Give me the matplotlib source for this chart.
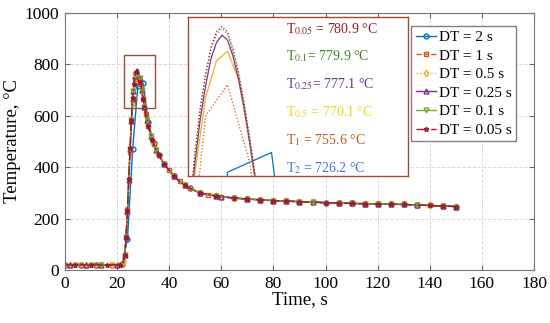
import matplotlib
matplotlib.use("Agg")
from matplotlib import pyplot as plt
from matplotlib.patches import Rectangle

plt.rcParams["font.family"] = ["Liberation Serif", "DejaVu Serif"]
plt.rcParams["mathtext.fontset"] = "stix"

# shared parts of every curve (heating stage before, cooling tail after)
t_base = [0, 2, 4, 6, 8, 10, 12, 14, 16, 18, 20]
T_base = [20, 20, 20, 20, 20, 20, 20, 20, 20, 20, 20]
t_tail = [36, 38, 40, 42, 44, 46, 48, 50, 52, 55, 58, 60, 65, 70, 75, 80, 85, 90,
          95, 100, 105, 110, 115, 120, 125, 130, 135, 140, 145, 150]
T_tail = [447, 414, 388, 364, 345, 330, 318, 308, 300, 293, 288, 285, 280, 276, 273,
          270, 268, 266, 264, 262, 261, 259, 258, 257, 256, 255, 253, 251, 249, 247]

# peak region for each time step
t_dt2 = [22, 24, 26, 28, 30, 32, 34]
T_dt2 = [25, 120, 470, 717.6, 726.2, 575, 495]

t_dt1 = [21, 22, 23, 24, 25, 26, 27, 28, 29, 30, 31, 32, 33, 34, 35]
T_dt1 = [20, 22, 60, 225, 460, 650, 742, 755.6, 722, 665, 605, 560, 522, 492, 468]

t_dt05 = [21, 22, 22.5, 23, 23.5, 24, 24.5, 25, 25.5, 26, 26.5, 27, 27.5, 28, 28.5,
          29, 29.5, 30, 30.5, 31, 31.5, 32, 32.5, 33, 33.5, 34, 34.5, 35]
T_dt05 = [20, 22, 35, 60, 130, 230, 350, 470, 578, 662, 716, 750, 766, 770.1, 758,
          731, 699, 666, 634, 606, 582, 561, 541, 523, 507, 493, 480, 468]

t_fine = [21, 22, 22.5, 23, 23.5, 24, 24.5, 25, 25.5, 26, 26.25, 26.5, 26.75, 27,
          27.25, 27.5, 27.75, 28, 28.25, 28.5, 28.75, 29, 29.25, 29.5, 30, 30.5, 31,
          31.5, 32, 32.5, 33, 33.5, 34, 34.5, 35]
T_dt025 = [20, 22, 35, 60, 130, 230, 350, 470, 580, 665, 695, 720, 740, 755, 767,
           774, 777.1, 775, 768, 758, 746, 731, 715, 699, 666, 634, 606, 582, 561,
           541, 523, 507, 493, 480, 468]
T_dt01 = [20, 22, 35, 60, 130, 232, 352, 472, 582, 667, 698, 723, 744, 759, 771,
          777.5, 779.9, 777.5, 770, 760, 747, 732, 716, 700, 667, 635, 606, 582, 561,
          541, 523, 507, 493, 480, 468]
T_dt005 = [20, 22, 35, 60, 130, 233, 353, 473, 583, 668, 699, 724, 745, 760, 772,
           778.5, 780.9, 778.5, 771, 761, 748, 733, 717, 701, 667, 635, 606, 582, 561,
           541, 523, 507, 493, 480, 468]

labels = ["DT = 2 s", "DT = 1 s", "DT = 0.5 s", "DT = 0.25 s", "DT = 0.1 s", "DT = 0.05 s"]
peak_times = [t_dt2, t_dt1, t_dt05, t_fine, t_fine, t_fine]
peak_temps = [T_dt2, T_dt1, T_dt05, T_dt025, T_dt01, T_dt005]
peak_text = [r"T$_{2}$ = 726.2 °C", r"T$_{1}$ = 755.6 °C", r"T$_{0.5}$ = 770.1 °C",
             r"T$_{0.25}$= 777.1 °C", r"T$_{0.1}$= 779.9 °C", r"T$_{0.05}$ = 780.9 °C"]

colors = [(0, 0.447, 0.741), (0.85, 0.325, 0.098), (0.929, 0.694, 0.125),
          (0.494, 0.184, 0.556), (0.466, 0.674, 0.188), (0.635, 0.078, 0.184)]
text_colors = [(0.25, 0.45, 0.8), (0.75, 0.35, 0.1), (0.9, 0.85, 0.1),
               (0.4, 0.2, 0.6), (0.25, 0.5, 0.15), (0.55, 0.1, 0.15)]
styles = ["-", "--", ":", "-", "-", "-."]
markers = ["o", "s", "d", "^", "v", "*"]
inset_styles = ["-", ":", "-", "-", ":", ":"]

fig = plt.figure(figsize=(5.5, 3.23), dpi=100)
ax = fig.add_axes([0.118, 0.164, 0.853, 0.796])

for i in range(6):
    t = t_base + peak_times[i] + t_tail
    T = T_base + peak_temps[i] + T_tail
    ax.plot(t, T, linestyle=styles[i], marker=markers[i], color=colors[i],
            linewidth=1, markersize=3.5, markerfacecolor="none",
            markevery=(0.004 * i, 0.028), label=labels[i])

ax.set_xlim(0, 180)
ax.set_ylim(0, 1000)
ax.set_xticks(range(0, 181, 20))
ax.set_yticks(range(0, 1001, 200))
ax.tick_params(direction="in", top=True, right=True, labelsize=12.5, color="0.4", pad=4)
ax.grid(True, linestyle="--", color="0.85", linewidth=0.7)
for s in ax.spines.values():
    s.set_color("0.45")
ax.set_xlabel("Time, s", fontsize=13.5, labelpad=0)
ax.set_ylabel("Temperature, °C", fontsize=13.5, labelpad=3)

leg = ax.legend(loc="upper right", bbox_to_anchor=(0.978, 0.98), fontsize=11,
                handlelength=1.3, handletextpad=0.2, borderpad=0.3, labelspacing=0.32,
                fancybox=False, framealpha=1, edgecolor="0.5")

box_color = (0.62, 0.3, 0.18)
ax.add_patch(Rectangle((22.6, 630), 11.9, 207, fill=False, edgecolor=box_color,
                       linewidth=1, zorder=5))

# zoomed view of the peak
ins = ax.inset_axes([47.2, 366, 84.4, 618], transform=ax.transData)
for i in range(6):
    ins.plot(peak_times[i], peak_temps[i], linestyle=inset_styles[i], color=colors[i],
             linewidth=0.9)
ins.set_xlim(26.2, 36.2)
ins.set_ylim(716, 785)
ins.set_xticks([])
ins.set_yticks([])
for s in ins.spines.values():
    s.set_color(box_color)
    s.set_linewidth(1)
ys = [0.048, 0.226, 0.401, 0.577, 0.751, 0.923]
for i in range(6):
    ins.text(0.445, ys[i], peak_text[i], transform=ins.transAxes, color=text_colors[i],
             fontsize=10, va="center", ha="left")

fig.savefig("out.png", dpi=100)
